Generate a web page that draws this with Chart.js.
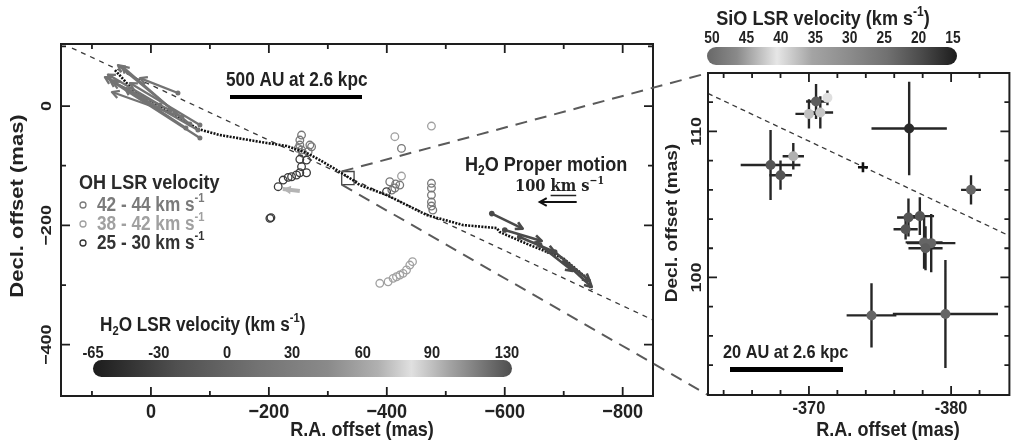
<!DOCTYPE html>
<html>
<head>
<meta charset="utf-8">
<script src="https://cdn.jsdelivr.net/npm/chart.js@4.4.0/dist/chart.umd.min.js"></script>
<style>
html, body { margin: 0; padding: 0; background: #fff; }
#wrap { position: relative; width: 1017px; height: 442px; overflow: hidden; }
#wrap canvas { position: absolute; left: 0; top: 0; }
</style>
</head>
<body>
<div id="wrap">
  <canvas id="leftChart" width="1017" height="442"></canvas>
  <canvas id="rightChart" width="1017" height="442"></canvas>
</div>
<script>
// ---------- left panel (mas) ----------
var leftXTicks = [100, 0, -100, -200, -300, -400, -500, -600, -700, -800];
var leftXMajor = [0, -200, -400, -600, -800];
var leftYTicks = [100, 0, -100, -200, -300, -400];
var leftYMajor = [0, -200, -400];

// thin dashed axis line
var axisLineX = [133.9, -851.4];
var axisLineY = [97.2, -358.6];

// dotted jet curve
var jetX = [61, 30.5, -79.7, -117, -196.6, -230.5, -264.4, -286.4, -315.3, -342.4, -354, -400, -427, -467.8, -528.8, -586.4, -591.5, -642.4, -698.3, -739, -747.5];
var jetY = [60.3, 26.8, -38.5, -48.6, -62, -67, -78.8, -90.5, -107.3, -124, -132.4, -149.2, -162.6, -182.7, -199.4, -204.5, -211.2, -233, -254.7, -288.3, -308.4];

// H2O proper motions [tailX, tailY, headX, headY]
var h2oNW = [
  [-83.1, -53.6, 69.5, 43.6],
  [-79.7, -40.2, 78.0, 48.6],
  [-52.5, -18.4, 66.1, 23.5],
  [-66.1, -30.2, 55.9, 68.7],
  [-40.7, -10.1, 49.2, 67.0],
  [-32.2, -6.7, 64.4, 40.2],
  [-59.3, -36.9, 44.1, 30.2],
  [-15.3, 1.7, 72.9, 52.8],
  [-45.8, 21.8, 18.6, 46.9],
  [-83.1, -31.8, 35.6, 38.5]
];
var h2oSE = [
  [-578.0, -180.3, -630.5, -205.5],
  [-600.0, -207.8, -662.7, -226.2],
  [-625.4, -219.5, -684.7, -244.7],
  [-659.3, -232.9, -715.3, -276.5],
  [-684.7, -244.7, -744.1, -293.3],
  [-701.7, -261.4, -747.5, -303.3]
];
var h2oLight = [[-252.5, -142.5, -223.7, -139.0]];
var scaleArrow = [-722, -160.9, -659.3, -160.9];

// OH masers by velocity group
var oh4244X = [-255.4, -252.5, -252.5, -249.7, -255.4, -269.5, -272.4, -266.6, -258.1, -424.9, -405, -415, -422, -413.6, -408.5, -475.7, -475.7, -475.7, -475.7, -475.7, -478];
var oh4244Y = [-48.6, -57.0, -65.4, -71.0, -73.7, -65.4, -68.2, -76.6, -79.3, -71, -126.9, -130.7, -132.4, -137.4, -140.8, -129.5, -137.4, -149.2, -160.9, -167.6, -174.3];
var oh3842X = [-475.7, -413.6, -424.9, -388.1, -402.2, -410.7, -416.4, -422, -427.6, -433.4, -439, -443.6];
var oh3842Y = [-33.5, -51.4, -117.3, -297.1, -294.5, -288.8, -286.1, -283.3, -280.4, -274.8, -266.5, -260.9];
var oh2530X = [-252.5, -263.9, -255.4, -252.5, -263.9, -246.9, -238.5, -232.7, -224.2, -215.8, -201.7, -203.5, -399.5];
var oh2530Y = [-89.3, -90.5, -101.7, -111.8, -111.8, -115.6, -118.5, -119.5, -124.0, -135.2, -188.2, -187.0, -143.6];

// zoomed region
var zoomBoxX = [-323.5, -344.5];
var zoomBoxY = [-131.7, -109.7];

var h2oBarLabels = ['-65', '-30', '0', '30', '60', '90', '130'];
var h2oBarPos = [0, 0.157, 0.32, 0.475, 0.644, 0.809, 0.988];
var h2oBarStops = [[0, '#1c1c1c'], [0.2, '#505050'], [0.4, '#747474'], [0.56, '#8a8a8a'], [0.68, '#b0b0b0'], [0.76, '#e0e0e0'], [0.85, '#a4a4a4'], [1, '#4e4e4e']];

// ---------- right panel (mas) ----------
var rightXTicks = [-364, -366, -368, -370, -372, -374, -376, -378, -380, -382];
var rightXMajor = [-370, -380];
var rightYTicks = [94, 96, 98, 100, 102, 104, 106, 108, 110, 112];
var rightYMajor = [100, 110];

var sioX = [-370.5, -371.3, -370.0, -370.8, -377.05, -367.3, -368.0, -368.9, -381.4, -377.0, -377.8, -376.8, -378.1, -378.6, -378.2, -374.4, -379.6];
var sioY = [112.05, 112.3, 111.2, 111.3, 110.2, 107.7, 107.0, 108.3, 106.0, 104.1, 104.2, 103.3, 102.4, 102.35, 102.0, 97.4, 97.5];
var sioXErr = [0.7, 0.3, 0.95, 0.9, 2.65, 2.1, 0.8, 0.75, 0.7, 0.8, 1.0, 0.85, 1.3, 1.7, 1.2, 1.75, 3.7];
var sioYErr = [1.2, 0.5, 1.0, 1.1, 3.2, 2.4, 1.0, 0.9, 1.0, 1.3, 1.3, 0.7, 1.8, 2.0, 1.5, 2.2, 3.7];
var sioVel = [22, 40, 43, 38, 16, 21, 21, 44, 23, 21, 21, 21, 23, 23, 22, 23, 23];

var sioLineX = [-362.9, -384.1];
var sioLineY = [112.6, 102.85];
var centreX = [-373.8];
var centreY = [107.55];

var sioBarLabels = ['50', '45', '40', '35', '30', '25', '20', '15'];
var sioBarStops = [[0, '#686868'], [0.12, '#8a8a8a'], [0.28, '#e6e6e6'], [0.42, '#a4a4a4'], [0.58, '#8a8a8a'], [0.72, '#717171'], [0.86, '#4a4a4a'], [1, '#1c1c1c']];

// ---------- helpers ----------
var SX = 0.86; // the figure is squeezed horizontally
var FONT = '"Liberation Sans", Arial, sans-serif';

function pts(xs, ys) {
  return xs.map(function (v, i) { return { x: v, y: ys[i] }; });
}

function greyAt(stops, f) {
  f = Math.max(0, Math.min(1, f));
  for (var i = 1; i < stops.length; i++) {
    if (f <= stops[i][0]) {
      var t = (f - stops[i - 1][0]) / (stops[i][0] - stops[i - 1][0]);
      var g0 = parseInt(stops[i - 1][1].slice(1, 3), 16), g1 = parseInt(stops[i][1].slice(1, 3), 16);
      var g = Math.round(g0 + (g1 - g0) * t);
      return 'rgb(' + g + ',' + g + ',' + g + ')';
    }
  }
  return stops[stops.length - 1][1];
}
function sioFrac(v) { return 0.02 + (50 - v) / 35 * 0.964; }

// parts: [text, kind] kind 1 = superscript, -1 = subscript, 'u' = underline
function txt(ctx, parts, x, y, o) {
  var size = o.size, wt = o.weight || 'bold', fam = o.family || FONT;
  var fN = wt + ' ' + size + 'px ' + fam;
  var fS = wt + ' ' + Math.round(size * 0.66) + 'px ' + fam;
  ctx.save();
  ctx.translate(x, y);
  ctx.scale(SX, 1);
  if (o.rot) ctx.rotate(o.rot);
  var w = 0;
  parts.forEach(function (p) { ctx.font = (p[1] === 1 || p[1] === -1) ? fS : fN; w += ctx.measureText(p[0]).width; });
  var cx = o.align === 'center' ? -w / 2 : (o.align === 'right' ? -w : 0);
  ctx.textBaseline = 'middle';
  ctx.textAlign = 'left';
  ctx.fillStyle = o.color || '#222';
  ctx.strokeStyle = o.color || '#222';
  parts.forEach(function (p) {
    var small = (p[1] === 1 || p[1] === -1);
    ctx.font = small ? fS : fN;
    var dy = p[1] === 1 ? -size * 0.33 : (p[1] === -1 ? size * 0.3 : 0);
    var pw = ctx.measureText(p[0]).width;
    ctx.fillText(p[0], cx, dy);
    if (p[1] === 'u') {
      ctx.lineWidth = 1.5;
      ctx.beginPath(); ctx.moveTo(cx, size * 0.5); ctx.lineTo(cx + pw, size * 0.5); ctx.stroke();
    }
    cx += pw;
  });
  ctx.restore();
}

function drawFrame(chart, f) {
  var ctx = chart.ctx, a = chart.chartArea, x = chart.scales.x, y = chart.scales.y;
  ctx.save();
  ctx.strokeStyle = '#1e1e1e';
  ctx.lineWidth = 2;
  ctx.strokeRect(a.left, a.top, a.right - a.left, a.bottom - a.top);
  ctx.lineWidth = 1.8;
  ctx.beginPath();
  f.xTicks.forEach(function (v) {
    var p = x.getPixelForValue(v), len = f.xMajor.indexOf(v) >= 0 ? 9 : 5;
    ctx.moveTo(p, a.bottom); ctx.lineTo(p, a.bottom - len);
    ctx.moveTo(p, a.top); ctx.lineTo(p, a.top + len);
  });
  f.yTicks.forEach(function (v) {
    var p = y.getPixelForValue(v), len = f.yMajor.indexOf(v) >= 0 ? 9 : 5;
    ctx.moveTo(a.left, p); ctx.lineTo(a.left + len, p);
    ctx.moveTo(a.right, p); ctx.lineTo(a.right - len, p);
  });
  ctx.stroke();
  ctx.restore();
  f.xMajor.forEach(function (v) {
    txt(ctx, [[f.fmt(v)]], x.getPixelForValue(v), a.bottom + f.xOff, { size: f.xSize, align: 'center' });
  });
  f.yMajor.forEach(function (v) {
    txt(ctx, [[f.fmt(v)]], a.left - f.yOff, y.getPixelForValue(v), { size: f.ySize, align: 'center', rot: -Math.PI / 2 });
  });
}

function colourBar(ctx, x0, y0, w, h, stops) {
  var g = ctx.createLinearGradient(x0, 0, x0 + w, 0);
  stops.forEach(function (s) { g.addColorStop(s[0], s[1]); });
  ctx.save();
  ctx.fillStyle = g;
  ctx.beginPath();
  ctx.roundRect(x0, y0, w, h, h / 2);
  ctx.fill();
  ctx.restore();
}

function arrowHead(ctx, x0, y0, x1, y1, kind, len) {
  var ang = Math.atan2(y1 - y0, x1 - x0);
  var sp = 0.5;
  ctx.beginPath();
  ctx.moveTo(x1 - len * Math.cos(ang - sp), y1 - len * Math.sin(ang - sp));
  ctx.lineTo(x1, y1);
  ctx.lineTo(x1 - len * Math.cos(ang + sp), y1 - len * Math.sin(ang + sp));
  if (kind === 'filled') { ctx.closePath(); ctx.fill(); } else { ctx.stroke(); }
}

function arrowSets(list, colour, width, kind, tailDot) {
  return list.map(function (r) {
    return {
      data: [{ x: r[0], y: r[1] }, { x: r[2], y: r[3] }],
      showLine: true,
      borderColor: colour,
      backgroundColor: colour,
      borderWidth: width,
      pointRadius: [tailDot, 0],
      pointBorderWidth: 0,
      arrow: kind
    };
  });
}

// ---------- right chart ----------
var rightDeco = {
  id: 'rightDeco',
  beforeDatasetsDraw: function (chart) {
    var ctx = chart.ctx, x = chart.scales.x, y = chart.scales.y;
    ctx.save();
    ctx.strokeStyle = '#262626';
    ctx.lineWidth = 2.4;
    ctx.beginPath();
    sioX.forEach(function (v, i) {
      var px = x.getPixelForValue(v), py = y.getPixelForValue(sioY[i]);
      ctx.moveTo(x.getPixelForValue(v - sioXErr[i]), py); ctx.lineTo(x.getPixelForValue(v + sioXErr[i]), py);
      ctx.moveTo(px, y.getPixelForValue(sioY[i] - sioYErr[i])); ctx.lineTo(px, y.getPixelForValue(sioY[i] + sioYErr[i]));
    });
    ctx.stroke();
    ctx.restore();
  },
  afterDraw: function (chart) {
    var ctx = chart.ctx, a = chart.chartArea;
    drawFrame(chart, {
      xTicks: rightXTicks, xMajor: rightXMajor, yTicks: rightYTicks, yMajor: rightYMajor,
      fmt: function (v) { return String(v); }, xSize: 19, ySize: 18, xOff: 14, yOff: 11
    });
    txt(ctx, [['R.A. offset (mas)']], 888, 430, { size: 21, align: 'center' });
    txt(ctx, [['Decl. offset (mas)']], 672, 223, { size: 19, align: 'center', rot: -Math.PI / 2 });
    // colour bar
    var bx = a.left - 1, bw = 250;
    colourBar(ctx, bx, 47, bw, 18, sioBarStops);
    sioBarLabels.forEach(function (l) {
      txt(ctx, [[l]], bx + bw * sioFrac(+l), 39, { size: 16, align: 'center' });
    });
    txt(ctx, [['SiO LSR velocity (km s'], ['-1', 1], [')']], 823, 19, { size: 21, align: 'center' });
    // scale bar
    ctx.fillStyle = '#000';
    ctx.fillRect(730, 367, 113, 5);
    txt(ctx, [['20 AU at 2.6 kpc']], 723, 353, { size: 19 });
  }
};

var rightChart = new Chart(document.getElementById('rightChart'), {
  type: 'scatter',
  data: {
    datasets: [
      {
        data: pts(centreX, centreY),
        pointStyle: 'cross', pointRadius: 5, borderColor: '#111', borderWidth: 2.6
      },
      {
        data: pts(sioX, sioY),
        pointRadius: 5, pointBorderWidth: 0,
        pointBackgroundColor: sioVel.map(function (v) { return greyAt(sioBarStops, sioFrac(v)); })
      },
      {
        data: pts(sioLineX, sioLineY), showLine: true, pointRadius: 0,
        borderColor: '#3a3a3a', borderWidth: 1.3, borderDash: [5, 4]
      }
    ]
  },
  options: {
    responsive: false, animation: false, events: [],
    layout: { padding: { left: 708, top: 73, right: -3, bottom: 47 } },
    scales: {
      x: { type: 'linear', min: -384.1, max: -362.9, reverse: true, display: false },
      y: { type: 'linear', min: 91.95, max: 114.0, display: false }
    },
    plugins: { legend: { display: false }, tooltip: { enabled: false } }
  },
  plugins: [rightDeco]
});

// ---------- left chart ----------
var leftDeco = {
  id: 'leftDeco',
  afterDatasetsDraw: function (chart) {
    var ctx = chart.ctx;
    chart.data.datasets.forEach(function (ds, i) {
      if (!ds.arrow) return;
      var m = chart.getDatasetMeta(i).data;
      ctx.save();
      ctx.strokeStyle = ds.borderColor; ctx.fillStyle = ds.borderColor;
      ctx.lineWidth = ds.borderWidth; ctx.lineJoin = 'round';
      arrowHead(ctx, m[0].x, m[0].y, m[1].x, m[1].y, ds.arrow, ds.arrow === 'filled' ? 9 : 8);
      ctx.restore();
    });
  },
  afterDraw: function (chart) {
    var ctx = chart.ctx, a = chart.chartArea, x = chart.scales.x, y = chart.scales.y;
    drawFrame(chart, {
      xTicks: leftXTicks, xMajor: leftXMajor, yTicks: leftYTicks, yMajor: leftYMajor,
      fmt: function (v) { return v === 0 ? '0' : '\u2212' + Math.abs(v); }, xSize: 21, ySize: 18, xOff: 16, yOff: 14
    });
    txt(ctx, [['R.A. offset (mas)']], (a.left + a.right) / 2 + 5, 430, { size: 21, align: 'center' });
    txt(ctx, [['Decl. offset (mas)']], 18, 206, { size: 22, align: 'center', rot: -Math.PI / 2 });

    // lines to the zoomed panel
    var ra = rightChart.chartArea;
    ctx.save();
    ctx.strokeStyle = '#5a5a5a'; ctx.lineWidth = 2; ctx.setLineDash([12, 8]);
    ctx.beginPath();
    ctx.moveTo(x.getPixelForValue(zoomBoxX[0]), y.getPixelForValue(zoomBoxY[1])); ctx.lineTo(ra.left, ra.top);
    ctx.moveTo(x.getPixelForValue(zoomBoxX[0]), y.getPixelForValue(zoomBoxY[0])); ctx.lineTo(ra.left, ra.bottom);
    ctx.stroke();
    ctx.restore();

    // scale bar
    ctx.fillStyle = '#000';
    ctx.fillRect(230, 95, 132, 4);
    txt(ctx, [['500 AU at 2.6 kpc']], 226, 80, { size: 20 });

    // proper-motion key
    txt(ctx, [['H'], ['2', -1], ['O Proper motion']], 465, 165, { size: 21 });
    txt(ctx, [['100 '], ['km', 'u'], [' s'], ['\u22121', 1]], 515, 187, { size: 17, family: '"DejaVu Serif", serif' });
    ctx.save();
    ctx.strokeStyle = '#111'; ctx.lineWidth = 2;
    var ax0 = x.getPixelForValue(scaleArrow[0]), ay0 = y.getPixelForValue(scaleArrow[1]);
    var ax1 = x.getPixelForValue(scaleArrow[2]), ay1 = y.getPixelForValue(scaleArrow[3]);
    ctx.beginPath(); ctx.moveTo(ax0, ay0); ctx.lineTo(ax1, ay1); ctx.stroke();
    arrowHead(ctx, ax0, ay0, ax1, ay1, 'open', 8);
    ctx.restore();

    // OH legend
    txt(ctx, [['OH LSR velocity']], 79, 183, { size: 21, color: '#2a2a2a' });
    var rows = [['42 - 44 km s', '#7a7a7a', 205], ['38 - 42 km s', '#a0a0a0', 224], ['25 - 30 km s', '#333333', 243]];
    rows.forEach(function (r) {
      ctx.save();
      ctx.strokeStyle = r[1]; ctx.lineWidth = 1.3;
      ctx.beginPath(); ctx.arc(83, r[2], 3, 0, Math.PI * 2); ctx.stroke();
      ctx.restore();
      txt(ctx, [[r[0]], ['-1', 1]], 97, r[2], { size: 20, color: r[1] });
    });

    // H2O colour bar
    colourBar(ctx, 93, 360, 419, 17, h2oBarStops);
    h2oBarLabels.forEach(function (l, i) {
      txt(ctx, [[l]], 93 + 419 * h2oBarPos[i], 353, { size: 17, align: 'center' });
    });
    txt(ctx, [['H'], ['2', -1], ['O LSR velocity (km s'], ['-1', 1], [')']], 100, 325, { size: 20 });
  }
};

var datasets = []
  .concat(arrowSets(h2oLight, '#b4b4b4', 4, 'filled', 0))
  .concat(arrowSets(h2oNW, '#737373', 2.3, 'open', 2.5))
  .concat(arrowSets(h2oSE, '#4a4a4a', 2.6, 'open', 2.8))
  .concat([
    {
      data: pts(jetX, jetY), showLine: true, pointRadius: 0,
      borderColor: '#111', borderWidth: 2.6, borderDash: [2, 1.3]
    },
    {
      data: pts(oh2530X, oh2530Y), pointRadius: 3.8, pointBorderWidth: 1.3,
      pointBorderColor: '#3a3a3a', pointBackgroundColor: 'rgba(0,0,0,0)'
    },
    {
      data: pts(oh4244X, oh4244Y), pointRadius: 3.8, pointBorderWidth: 1.3,
      pointBorderColor: '#777777', pointBackgroundColor: 'rgba(0,0,0,0)'
    },
    {
      data: pts(oh3842X, oh3842Y), pointRadius: 3.8, pointBorderWidth: 1.3,
      pointBorderColor: '#a0a0a0', pointBackgroundColor: 'rgba(0,0,0,0)'
    },
    {
      data: [
        { x: zoomBoxX[0], y: zoomBoxY[1] }, { x: zoomBoxX[1], y: zoomBoxY[1] },
        { x: zoomBoxX[1], y: zoomBoxY[0] }, { x: zoomBoxX[0], y: zoomBoxY[0] },
        { x: zoomBoxX[0], y: zoomBoxY[1] }
      ],
      showLine: true, pointRadius: 0, borderColor: '#444', borderWidth: 1.3
    },
    {
      data: pts(axisLineX, axisLineY), showLine: true, pointRadius: 0,
      borderColor: '#3a3a3a', borderWidth: 1.3, borderDash: [5, 5]
    }
  ]);

var leftChart = new Chart(document.getElementById('leftChart'), {
  type: 'scatter',
  data: { datasets: datasets },
  options: {
    responsive: false, animation: false, events: [],
    layout: { padding: { left: 61, top: 44, right: 364, bottom: 46 } },
    scales: {
      x: { type: 'linear', min: -851.4, max: 152.5, reverse: true, display: false },
      y: { type: 'linear', min: -486, max: 104, display: false }
    },
    plugins: { legend: { display: false }, tooltip: { enabled: false } }
  },
  plugins: [leftDeco]
});
</script>
</body>
</html>
